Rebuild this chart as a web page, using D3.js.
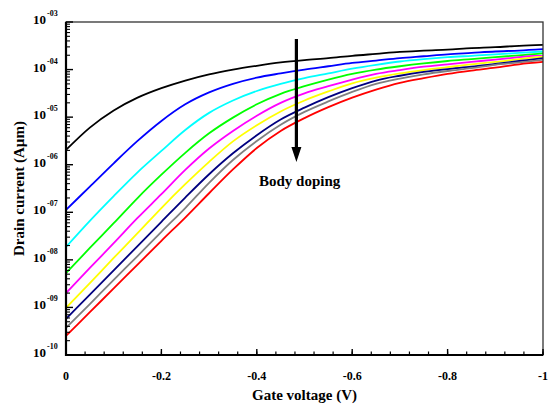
<!DOCTYPE html>
<html>
<head>
<meta charset="utf-8">
<script src="https://cdnjs.cloudflare.com/ajax/libs/d3/7.8.5/d3.min.js"></script>
<style>
  body { margin: 0; background: #fff; }
  text { font-family: "Liberation Serif", "Times New Roman", serif; font-weight: bold; fill: #000; }
</style>
</head>
<body>
<svg id="chart" width="550" height="405"></svg>
<script>
// gate voltage samples (V)
const gateVoltage = [0, -0.05, -0.1, -0.15, -0.2, -0.25, -0.3, -0.35, -0.4, -0.45, -0.5,
                     -0.55, -0.6, -0.65, -0.7, -0.75, -0.8, -0.85, -0.9, -0.95, -1.0];

// log10 of drain current (A/um), one array per body doping, lowest doping first
const logBlack   = [-5.69, -5.22, -4.86, -4.59, -4.39, -4.23, -4.10, -4.00, -3.92, -3.85, -3.80, -3.76, -3.71, -3.67, -3.63, -3.60, -3.58, -3.55, -3.53, -3.50, -3.48];
const logBlue    = [-6.95, -6.46, -5.97, -5.50, -5.08, -4.73, -4.48, -4.30, -4.17, -4.08, -4.00, -3.93, -3.86, -3.81, -3.76, -3.72, -3.68, -3.65, -3.62, -3.60, -3.57];
const logCyan    = [-7.73, -7.18, -6.66, -6.16, -5.71, -5.27, -4.91, -4.65, -4.45, -4.30, -4.18, -4.08, -3.98, -3.90, -3.83, -3.78, -3.74, -3.71, -3.68, -3.65, -3.62];
const logGreen   = [-8.28, -7.75, -7.23, -6.70, -6.21, -5.75, -5.34, -5.01, -4.73, -4.51, -4.35, -4.21, -4.09, -4.00, -3.93, -3.87, -3.82, -3.78, -3.74, -3.70, -3.66];
const logMagenta = [-8.70, -8.17, -7.65, -7.12, -6.62, -6.11, -5.66, -5.29, -4.97, -4.70, -4.50, -4.35, -4.21, -4.09, -4.01, -3.94, -3.89, -3.84, -3.79, -3.74, -3.69];
const logYellow  = [-9.01, -8.49, -7.96, -7.44, -6.91, -6.41, -5.94, -5.51, -5.17, -4.88, -4.65, -4.46, -4.29, -4.17, -4.08, -4.01, -3.95, -3.89, -3.84, -3.78, -3.73];
const logNavy    = [-9.24, -8.73, -8.22, -7.71, -7.20, -6.69, -6.20, -5.76, -5.38, -5.05, -4.80, -4.58, -4.39, -4.23, -4.13, -4.05, -3.99, -3.94, -3.88, -3.82, -3.76];
const logGray    = [-9.43, -8.93, -8.42, -7.92, -7.41, -6.91, -6.38, -5.90, -5.50, -5.16, -4.89, -4.67, -4.47, -4.30, -4.19, -4.10, -4.03, -3.97, -3.90, -3.85, -3.79];
const logRed     = [-9.60, -9.10, -8.60, -8.10, -7.60, -7.11, -6.60, -6.10, -5.65, -5.29, -5.02, -4.79, -4.59, -4.42, -4.28, -4.18, -4.09, -4.02, -3.96, -3.89, -3.84];

const seriesColors = ["#000000", "#0000ff", "#00ffff", "#00ff00", "#ff00ff", "#ffff00", "#000080", "#808080", "#ff0000"];
const allCurves = [logBlack, logBlue, logCyan, logGreen, logMagenta, logYellow, logNavy, logGray, logRed]
    .map(arr => arr.map(e => Math.pow(10, e)));

const xTicks = [0, -0.2, -0.4, -0.6, -0.8, -1];
const xTickLabels = ["0", "-0.2", "-0.4", "-0.6", "-0.8", "-1"];
const yDecades = [-10, -9, -8, -7, -6, -5, -4, -3];
const yTickLabels = ["-10", "-09", "-08", "-07", "-06", "-05", "-04", "-03"];

const margin = { left: 66, right: 7, top: 22, bottom: 50 };
const width = 550, height = 405;

const svg = d3.select("#chart");

const x = d3.scaleLinear().domain([0, -1]).range([margin.left, width - margin.right]);
const y = d3.scaleLog().domain([1e-10, 1e-3]).range([height - margin.bottom, margin.top]);

// curves
const line = d3.line()
    .x((d, i) => x(gateVoltage[i]))
    .y(d => y(d))
    .curve(d3.curveMonotoneX);

svg.append("g")
    .selectAll("path")
    .data(allCurves)
    .join("path")
    .attr("d", line)
    .attr("fill", "none")
    .attr("stroke", (d, i) => seriesColors[i])
    .attr("stroke-width", 1.8);

// frame: top / right thin
svg.append("rect")
    .attr("x", x(0))
    .attr("y", y(1e-3))
    .attr("width", x(-1) - x(0))
    .attr("height", y(1e-10) - y(1e-3))
    .attr("fill", "none")
    .attr("stroke", "#333")
    .attr("stroke-width", 1.3);

// x axis, ticks pointing inward
const xMinor = d3.range(0, 26).map(i => -i * 0.04);
const xAxis = svg.append("g").attr("transform", `translate(0,${y(1e-10)})`);
xAxis.selectAll("line.minor")
    .data(xMinor)
    .join("line")
    .attr("x1", d => x(d)).attr("x2", d => x(d))
    .attr("y1", 0).attr("y2", -3.5)
    .attr("stroke", "#000").attr("stroke-width", 1.2);
xAxis.selectAll("line.major")
    .data(xTicks)
    .join("line")
    .attr("x1", d => x(d)).attr("x2", d => x(d))
    .attr("y1", 0).attr("y2", -6)
    .attr("stroke", "#000").attr("stroke-width", 1.4);
xAxis.append("line")
    .attr("x1", x(0) - 1).attr("x2", x(-1))
    .attr("stroke", "#000").attr("stroke-width", 2.2);
xAxis.selectAll("text")
    .data(xTicks)
    .join("text")
    .attr("x", d => x(d))
    .attr("y", 25)
    .attr("text-anchor", "middle")
    .attr("font-size", 12)
    .text((d, i) => xTickLabels[i]);

// y axis, log ticks pointing inward
const yAxis = svg.append("g").attr("transform", `translate(${x(0)},0)`);
const yMinor = [];
yDecades.slice(0, -1).forEach(e => {
    for (let k = 2; k <= 9; k++) yMinor.push(k * Math.pow(10, e));
});
yAxis.selectAll("line.minor")
    .data(yMinor)
    .join("line")
    .attr("y1", d => y(d)).attr("y2", d => y(d))
    .attr("x1", 0).attr("x2", 4)
    .attr("stroke", "#000").attr("stroke-width", 1.1);
yAxis.selectAll("line.major")
    .data(yDecades)
    .join("line")
    .attr("y1", d => y(Math.pow(10, d))).attr("y2", d => y(Math.pow(10, d)))
    .attr("x1", 0).attr("x2", 7)
    .attr("stroke", "#000").attr("stroke-width", 1.4);
yAxis.append("line")
    .attr("y1", y(1e-3)).attr("y2", y(1e-10) + 1)
    .attr("stroke", "#000").attr("stroke-width", 2.2);

const yLab = yAxis.selectAll("text")
    .data(yDecades)
    .join("text")
    .attr("x", -33)
    .attr("y", d => y(Math.pow(10, d)) + 2)
    .attr("font-size", 13);
yLab.append("tspan").text("10");
yLab.append("tspan")
    .attr("dy", -8)
    .attr("dx", 1)
    .attr("font-size", 8)
    .text((d, i) => yTickLabels[i]);

// axis titles
svg.append("text")
    .attr("x", (x(0) + x(-1)) / 2)
    .attr("y", 400)
    .attr("text-anchor", "middle")
    .attr("font-size", 15)
    .text("Gate voltage (V)");

svg.append("text")
    .attr("transform", `translate(24,${(y(1e-3) + y(1e-10)) / 2}) rotate(-90)`)
    .attr("text-anchor", "middle")
    .attr("font-size", 15)
    .text("Drain current (A\u00b5m)");

// arrow annotation
const arrowX = x(-0.483);
svg.append("line")
    .attr("x1", arrowX).attr("x2", arrowX)
    .attr("y1", 39).attr("y2", 150)
    .attr("stroke", "#000").attr("stroke-width", 3.2);
svg.append("path")
    .attr("d", `M${arrowX - 5},147L${arrowX + 5},147L${arrowX},162Z`)
    .attr("fill", "#000");
svg.append("text")
    .attr("x", 259)
    .attr("y", 186)
    .attr("font-size", 15)
    .text("Body doping");
</script>
</body>
</html>
